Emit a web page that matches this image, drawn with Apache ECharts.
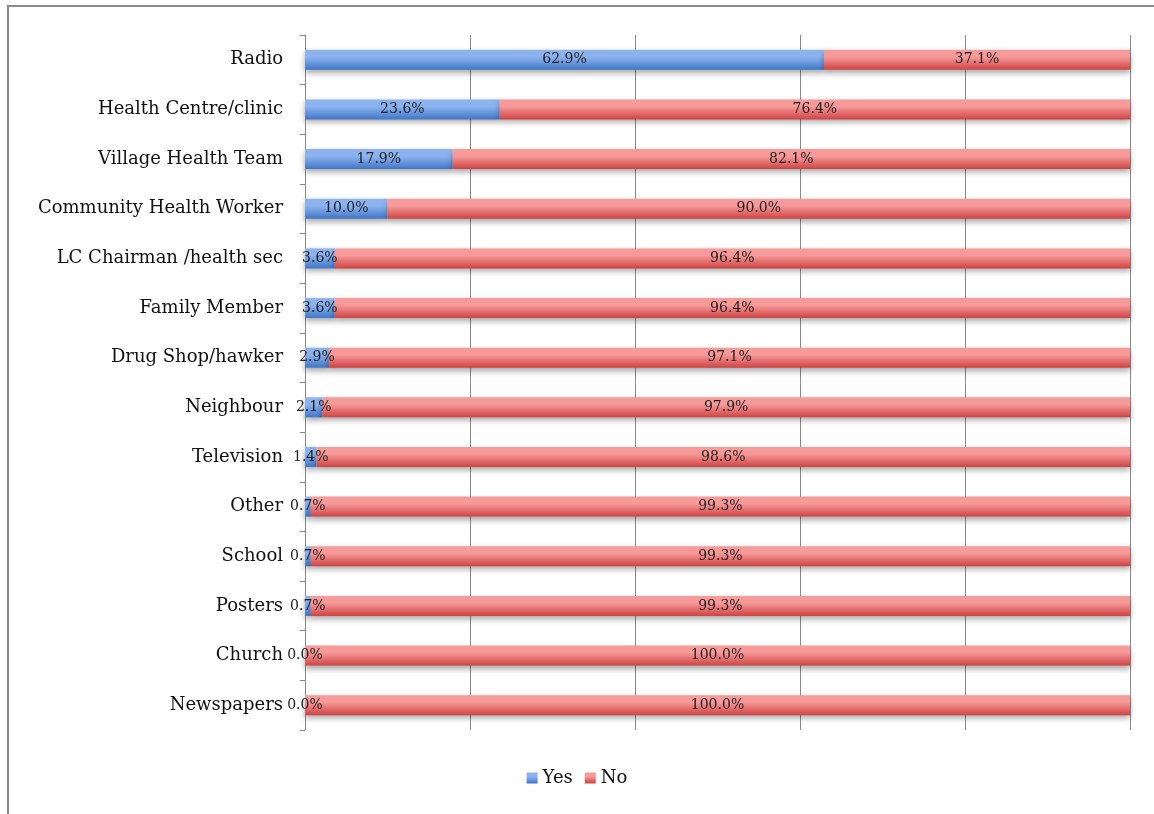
<!DOCTYPE html>
<html>
<head>
<meta charset="utf-8">
<script src="https://cdn.jsdelivr.net/npm/echarts@6/dist/echarts.min.js"></script>
<style>
html,body{margin:0;padding:0;background:#fff;}
#frame{position:absolute;left:7px;top:5px;width:1160px;height:820px;border-left:2px solid #8a8a8a;border-top:2px solid #8a8a8a;box-sizing:border-box;}
#chart{position:absolute;left:0;top:0;width:1154px;height:814px;}
</style>
</head>
<body>
<div id="frame"></div>
<div id="chart"></div>
<script>
const categories = ["Radio","Health Centre/clinic","Village Health Team","Community Health Worker","LC Chairman /health sec","Family Member","Drug Shop/hawker","Neighbour","Television","Other","School","Posters","Church","Newspapers"];
const yesValues = [62.9,23.6,17.9,10.0,3.6,3.6,2.9,2.1,1.4,0.7,0.7,0.7,0.0,0.0];
const noValues = [37.1,76.4,82.1,90.0,96.4,96.4,97.1,97.9,98.6,99.3,99.3,99.3,100.0,100.0];
const seriesNames = ["Yes","No"];

const serif = "'DejaVu Serif','Liberation Serif',serif";
function grad(top, bottom){
  return new echarts.graphic.LinearGradient(0,0,0,1,[{offset:0,color:top},{offset:0.35,color:top},{offset:1,color:bottom}]);
}
const blue = grad('#8db3ef','#3f76c8');
const red = grad('#f79a9a','#cf4242');
const labelCfg = {show:true,position:'inside',color:'#222',fontFamily:serif,fontSize:14,formatter:p=>p.value.toFixed(1)+'%'};

const chart = echarts.init(document.getElementById('chart'));
chart.setOption({
  animation:false,
  grid:{left:305,right:24,top:35,bottom:84,containLabel:false},
  legend:{bottom:22,left:'center',itemWidth:11,itemHeight:11,itemGap:12,icon:'rect',
    textStyle:{fontFamily:serif,fontSize:18,color:'#111'},data:seriesNames},
  xAxis:{type:'value',min:0,max:100,interval:20,axisLabel:{show:false},axisLine:{show:false},axisTick:{show:false},
    splitLine:{show:true,lineStyle:{color:'#8a8a8a',width:1}}},
  yAxis:{type:'category',data:categories,inverse:true,
    axisLine:{show:true,lineStyle:{color:'#8a8a8a',width:1}},
    axisTick:{show:true,length:5,lineStyle:{color:'#8a8a8a'}},
    axisLabel:{fontFamily:serif,fontSize:18,color:'#111',margin:22}},
  series:[
    {name:seriesNames[0],type:'bar',stack:'s',data:yesValues,barWidth:20,
      itemStyle:{color:blue,shadowBlur:6,shadowColor:'rgba(0,0,0,0.35)',shadowOffsetY:3},label:labelCfg},
    {name:seriesNames[1],type:'bar',stack:'s',data:noValues,barWidth:20,
      itemStyle:{color:red,shadowBlur:6,shadowColor:'rgba(0,0,0,0.35)',shadowOffsetY:3},label:labelCfg}
  ]
});
</script>
</body>
</html>
